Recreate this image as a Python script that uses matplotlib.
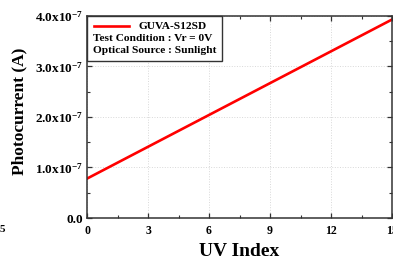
import matplotlib
matplotlib.use("Agg")
import matplotlib.pyplot as plt
from matplotlib.lines import Line2D
from matplotlib.offsetbox import AnchoredOffsetbox, DrawingArea, HPacker, TextArea, VPacker
from matplotlib.ticker import FuncFormatter, MultipleLocator

# data
uv_index = [0, 1, 2, 3, 4, 5, 6, 7, 8, 9, 10, 11, 12, 13, 14, 15]
photocurrent = [0.78, 0.99, 1.20, 1.41, 1.62, 1.83, 2.04, 2.25,
                2.46, 2.67, 2.88, 3.09, 3.30, 3.51, 3.72, 3.93]  # x1e-7 A
sensor = "GUVA-S12SD"
notes = ["Test Condition : Vr = 0V", "Optical Source : Sunlight"]

plt.rcParams["font.family"] = "Liberation Serif"
plt.rcParams["font.weight"] = "bold"
plt.rcParams["mathtext.fontset"] = "custom"
plt.rcParams["mathtext.rm"] = "Liberation Serif:bold"
plt.rcParams["mathtext.it"] = "Liberation Serif:bold"
plt.rcParams["mathtext.bf"] = "Liberation Serif:bold"

fig = plt.figure(figsize=(3.93, 2.59), dpi=100)
ax = fig.add_axes([0.2214, 0.1583, 0.7761, 0.78])

y_vals = [v * 1e-7 for v in photocurrent]
ax.plot(uv_index, y_vals, color="#ff0000", lw=1.9)

ax.set_xlim(0, 15)
ax.set_ylim(0, 4e-7)
ax.xaxis.set_major_locator(MultipleLocator(3))
ax.xaxis.set_minor_locator(MultipleLocator(1.5))
ax.yaxis.set_major_locator(MultipleLocator(1e-7))
ax.yaxis.set_minor_locator(MultipleLocator(0.5e-7))


def ylab(v, pos):
    if abs(v) < 1e-12:
        return "0.0"
    return r"%.1fx10$^{\mathregular{-7}}$" % (v / 1e-7)


ax.yaxis.set_major_formatter(FuncFormatter(ylab))
ax.tick_params(which="both", direction="in", top=True, right=True, color="#333333")
ax.tick_params(which="major", length=3.5, width=0.9)
ax.tick_params(which="minor", length=2, width=0.8)
ax.tick_params(axis="x", labelsize=8.5, pad=5)
ax.tick_params(axis="y", labelsize=9.5, pad=3)
for s in ax.spines.values():
    s.set_color("#333333")
    s.set_linewidth(1.1)
ax.grid(True, which="major", ls=":", color="#d8d8d8", lw=0.7)

ax.set_xlabel("UV Index", fontsize=14, fontweight="bold", labelpad=4)
ax.set_ylabel("Photocurrent (A)", fontsize=12.5, fontweight="bold")
ax.yaxis.set_label_coords(-0.195, 0.53)

# legend-like box
tprops = dict(fontsize=8.2, fontweight="bold", family="Liberation Serif")
da = DrawingArea(27, 7, 0, 0)
da.add_artist(Line2D([1, 26], [3.5, 3.5], color="#ff0000", lw=1.9))
first = HPacker(children=[da, TextArea(sensor, textprops=tprops)], pad=0, sep=6, align="center")
rows = [first] + [TextArea(t, textprops=tprops) for t in notes]
box = VPacker(children=rows, pad=0, sep=2.2, align="left")
anch = AnchoredOffsetbox(loc="upper left", child=box, pad=0.4, borderpad=0, frameon=True)
anch.patch.set_boxstyle("square,pad=0")
anch.patch.set_edgecolor("#333333")
anch.patch.set_linewidth(1.0)
ax.add_artist(anch)

fig.text(0.0, 0.105, "5", fontsize=8, fontweight="bold")

fig.savefig("out.png", dpi=100)
